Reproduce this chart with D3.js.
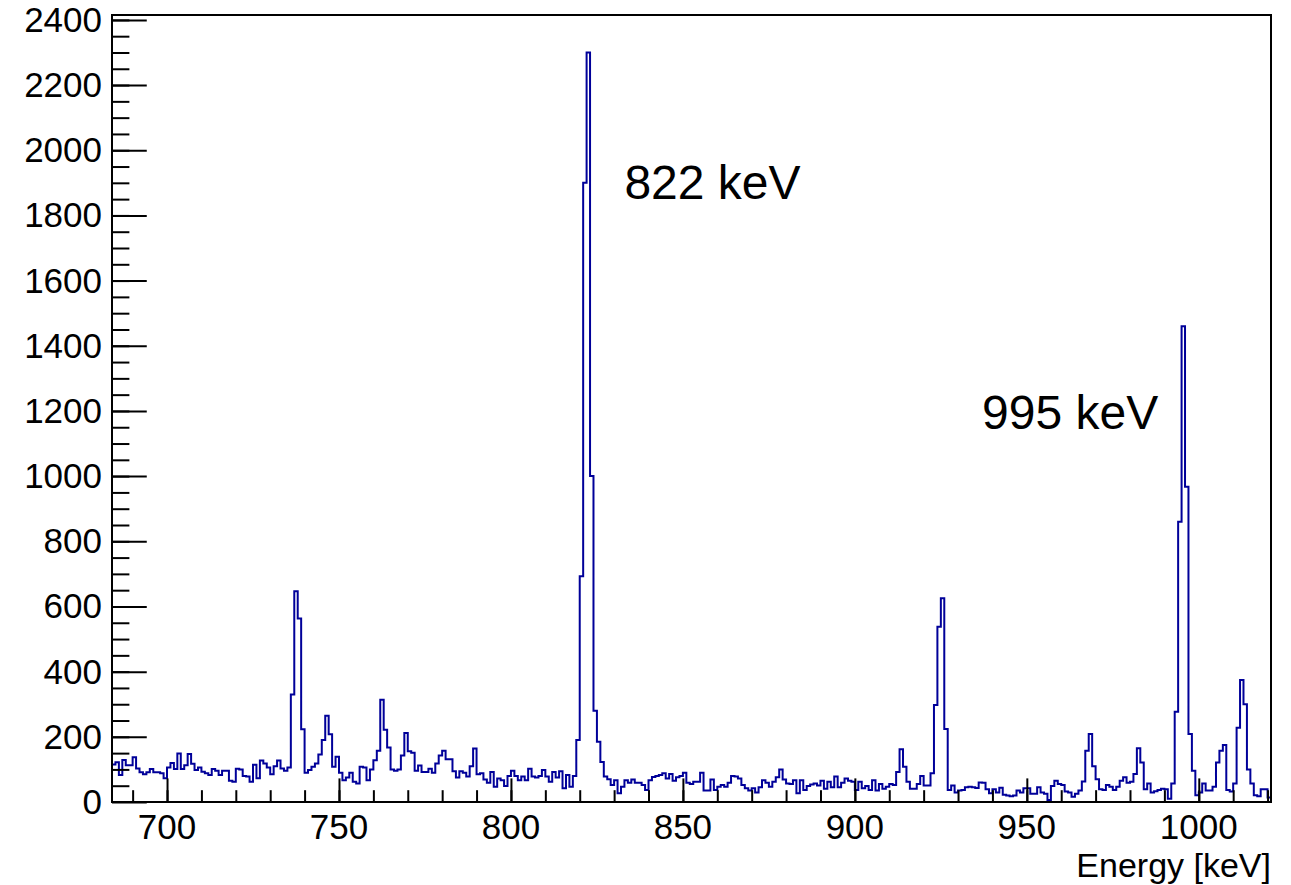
<!DOCTYPE html>
<html>
<head>
<meta charset="utf-8">
<script src="https://cdn.jsdelivr.net/npm/d3@7"></script>
<style>
  body { margin: 0; background: #fff; }
  text { font-family: "Liberation Sans", Arial, Helvetica, sans-serif; fill: #000; }
</style>
</head>
<body>
<div id="chart"></div>
<script>
// gamma spectrum, 1 keV bins starting at 684 keV
var binStart = 684,
    binWidth = 1;

var counts = [
  115,122,83,129,113,113,137,103,91,85,91,101,91,91,88,73,106,120,101,149,
  101,113,147,117,98,106,93,88,83,101,96,83,96,96,65,62,102,
  100,80,78,62,114,73,127,118,106,85,110,127,103,96,106,330,647,563,223,90,
  98,108,118,146,190,265,208,108,139,90,67,75,90,62,57,108,106,
  67,100,128,157,314,222,167,100,96,100,143,212,156,151,96,112,92,92,102,90,
  118,143,157,131,131,94,75,94,90,78,110,164,85,88,69,59,
  92,47,72,67,49,80,96,80,67,78,67,102,78,75,80,98,78,62,92,75,
  94,42,83,47,80,190,693,1900,2300,1000,280,185,123,78,70,52,67,27,47,67,
  59,69,59,59,52,37,67,77,80,83,88,72,86,65,76,80,90,59,55,62,
  62,90,35,35,69,37,47,52,47,59,80,78,72,52,42,35,
  42,29,45,67,59,47,62,76,100,69,57,55,67,27,67,37,49,54,57,51,
  65,41,62,45,78,45,59,72,65,62,37,62,42,49,37,67,35,55,
  41,47,55,52,92,162,108,62,41,41,55,80,51,51,88,298,538,625,224,37,
  51,29,35,37,45,47,45,43,60,59,39,27,39,29,44,22,20,18,20,35,
  29,42,42,25,25,45,29,25,6,49,65,55,52,32,29,16,25,35,63,157,
  209,110,70,39,37,52,47,37,47,65,76,59,62,86,165,121,39,57,29,33,
  37,41,39,10,57,
  277,860,1460,967,209,96,21,29,57,35,35,47,121,157,175,37,32,57,228,374,
  300,100,57,21,18,39,39,14
];

var xMajorTicks = [700, 750, 800, 850, 900, 950, 1000],
    yMajorTicks = [0, 200, 400, 600, 800, 1000, 1200, 1400, 1600, 1800, 2000, 2200, 2400];

var peakLabels = [
  {text: "822 keV", energy: 833, value: 1850},
  {text: "995 keV", energy: 937, value: 1145}
];

var xTitle = "Energy [keV]";

var width = 1291,
    height = 885,
    margin = {top: 15, right: 20, bottom: 83, left: 112};

var binEdges = counts.map(function(d, i) { return binStart + i * binWidth; });
var xMax = binStart + counts.length * binWidth;

var x = d3.scaleLinear()
    .domain([binStart, xMax])
    .range([margin.left, width - margin.right]);

var y = d3.scaleLinear()
    .domain([0, d3.max(counts) * 1.05])
    .range([height - margin.bottom, margin.top]);

var svg = d3.select("#chart").append("svg")
    .attr("width", width)
    .attr("height", height);

// histogram as step line
var pts = counts.map(function(d, i) { return [binEdges[i], d]; });
pts.push([xMax, counts[counts.length - 1]]);

var line = d3.line()
    .curve(d3.curveStepAfter)
    .x(function(d) { return x(d[0]); })
    .y(function(d) { return y(d[1]); });

svg.append("path")
    .datum(pts)
    .attr("d", line)
    .style("fill", "none")
    .style("stroke", "#000099")
    .style("stroke-width", 2);

// frame
svg.append("rect")
    .attr("x", x.range()[0])
    .attr("y", y.range()[1])
    .attr("width", x.range()[1] - x.range()[0])
    .attr("height", y.range()[0] - y.range()[1])
    .style("fill", "none")
    .style("stroke", "#000")
    .style("stroke-width", 2);

var plotH = y.range()[0] - y.range()[1],
    plotW = x.range()[1] - x.range()[0];

// x axis ticks point inward (up)
var xAxis = d3.axisTop(x)
    .tickValues(xMajorTicks)
    .tickSize(plotH * 0.03)
    .tickFormat("");
var xMinor = d3.axisTop(x)
    .tickValues(d3.range(690, xMax, 10))
    .tickSize(plotH * 0.015)
    .tickFormat("");

[xMinor, xAxis].forEach(function(ax) {
  svg.append("g")
      .attr("transform", "translate(0," + y.range()[0] + ")")
      .call(ax)
      .call(function(g) { g.select(".domain").remove(); })
      .selectAll("line").attr("stroke", "#000").attr("stroke-width", 2);
});

svg.selectAll(".xlab")
    .data(xMajorTicks)
    .enter().append("text")
    .attr("class", "xlab")
    .attr("x", function(d) { return x(d); })
    .attr("y", y.range()[0] + 37)
    .attr("text-anchor", "middle")
    .style("font-size", "35px")
    .text(function(d) { return d; });

// y axis ticks point inward (right)
var yAxis = d3.axisRight(y)
    .tickValues(yMajorTicks)
    .tickSize(plotW * 0.03)
    .tickFormat("");
var yMinor = d3.axisRight(y)
    .tickValues(d3.range(50, 2401, 50))
    .tickSize(plotW * 0.015)
    .tickFormat("");

[yMinor, yAxis].forEach(function(ax) {
  svg.append("g")
      .attr("transform", "translate(" + x.range()[0] + ",0)")
      .call(ax)
      .call(function(g) { g.select(".domain").remove(); })
      .selectAll("line").attr("stroke", "#000").attr("stroke-width", 2);
});

svg.selectAll(".ylab")
    .data(yMajorTicks)
    .enter().append("text")
    .attr("class", "ylab")
    .attr("x", x.range()[0] - 10)
    .attr("y", function(d) { return y(d) + 12; })
    .attr("text-anchor", "end")
    .style("font-size", "35px")
    .text(function(d) { return d; });

// axis title
svg.append("text")
    .attr("x", x.range()[1])
    .attr("y", height - 8)
    .attr("text-anchor", "end")
    .style("font-size", "34px")
    .text(xTitle);

// peak annotations
svg.selectAll(".peak")
    .data(peakLabels)
    .enter().append("text")
    .attr("class", "peak")
    .attr("x", function(d) { return x(d.energy); })
    .attr("y", function(d) { return y(d.value); })
    .style("font-size", "48px")
    .text(function(d) { return d.text; });
</script>
</body>
</html>
